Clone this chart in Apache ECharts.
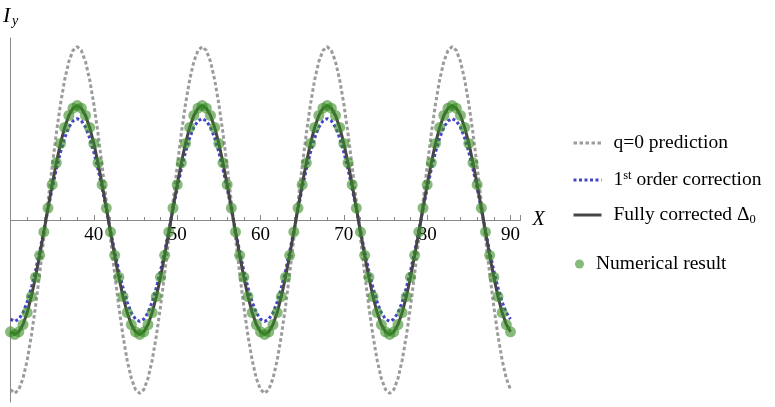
<!DOCTYPE html>
<html><head><meta charset="utf-8">
<script src="https://cdn.jsdelivr.net/npm/echarts@6/dist/echarts.min.js"></script>
<style>html,body{margin:0;padding:0;background:#fff}#c{width:775px;height:407px}</style>
</head><body><div id="c"></div>
<script>
const xValues = [
30,30.5,31,31.5,32,32.5,33,33.5,34,34.5,
35,35.5,36,36.5,37,37.5,38,38.5,39,39.5,
40,40.5,41,41.5,42,42.5,43,43.5,44,44.5,
45,45.5,46,46.5,47,47.5,48,48.5,49,49.5,
50,50.5,51,51.5,52,52.5,53,53.5,54,54.5,
55,55.5,56,56.5,57,57.5,58,58.5,59,59.5,
60,60.5,61,61.5,62,62.5,63,63.5,64,64.5,
65,65.5,66,66.5,67,67.5,68,68.5,69,69.5,
70,70.5,71,71.5,72,72.5,73,73.5,74,74.5,
75,75.5,76,76.5,77,77.5,78,78.5,79,79.5,
80,80.5,81,81.5,82,82.5,83,83.5,84,84.5,
85,85.5,86,86.5,87,87.5,88,88.5,89,89.5,
90];

const q0Prediction = [-0.978,
-1,-0.978,-0.914,-0.809,-0.669,-0.5,-0.309,-0.105,0.105,0.309,0.5,0.669,0.809,0.914,0.978,1,0.978,0.914,0.809,0.669,0.5,0.309,0.105,-0.105,-0.309,-0.5,-0.669,-0.809,-0.914,-0.978,
-1,-0.978,-0.914,-0.809,-0.669,-0.5,-0.309,-0.105,0.105,0.309,0.5,0.669,0.809,0.914,0.978,1,0.978,0.914,0.809,0.669,0.5,0.309,0.105,-0.105,-0.309,-0.5,-0.669,-0.809,-0.914,-0.978,
-1,-0.978,-0.914,-0.809,-0.669,-0.5,-0.309,-0.105,0.105,0.309,0.5,0.669,0.809,0.914,0.978,1,0.978,0.914,0.809,0.669,0.5,0.309,0.105,-0.105,-0.309,-0.5,-0.669,-0.809,-0.914,-0.978,
-1,-0.978,-0.914,-0.809,-0.669,-0.5,-0.309,-0.105,0.105,0.309,0.5,0.669,0.809,0.914,0.978,1,0.978,0.914,0.809,0.669,0.5,0.309,0.105,-0.105,-0.309,-0.5,-0.669,-0.809,-0.914,-0.978];

const firstOrderCorrection = [-0.572,
-0.585,-0.572,-0.535,-0.473,-0.391,-0.293,-0.181,-0.061,0.061,0.181,0.293,0.391,0.473,0.535,0.572,0.585,0.572,0.535,0.473,0.391,0.293,0.181,0.061,-0.061,-0.181,-0.293,-0.391,-0.473,-0.535,-0.572,
-0.585,-0.572,-0.535,-0.473,-0.391,-0.293,-0.181,-0.061,0.061,0.181,0.293,0.391,0.473,0.535,0.572,0.585,0.572,0.535,0.473,0.391,0.293,0.181,0.061,-0.061,-0.181,-0.293,-0.391,-0.473,-0.535,-0.572,
-0.585,-0.572,-0.535,-0.473,-0.391,-0.293,-0.181,-0.061,0.061,0.181,0.293,0.391,0.473,0.535,0.572,0.585,0.572,0.535,0.473,0.391,0.293,0.181,0.061,-0.061,-0.181,-0.293,-0.391,-0.473,-0.535,-0.572,
-0.585,-0.572,-0.535,-0.473,-0.391,-0.293,-0.181,-0.061,0.061,0.181,0.293,0.391,0.473,0.535,0.572,0.585,0.572,0.535,0.473,0.391,0.293,0.181,0.061,-0.061,-0.181,-0.293,-0.391,-0.473,-0.535,-0.572];

const numericalResult = [-0.645,
-0.660,-0.645,-0.603,-0.534,-0.442,-0.330,-0.204,-0.069,0.069,0.204,0.330,0.442,0.534,0.603,0.645,0.660,0.645,0.603,0.534,0.442,0.330,0.204,0.069,-0.069,-0.204,-0.330,-0.442,-0.534,-0.603,-0.645,
-0.660,-0.645,-0.603,-0.534,-0.442,-0.330,-0.204,-0.069,0.069,0.204,0.330,0.442,0.534,0.603,0.645,0.660,0.645,0.603,0.534,0.442,0.330,0.204,0.069,-0.069,-0.204,-0.330,-0.442,-0.534,-0.603,-0.645,
-0.660,-0.645,-0.603,-0.534,-0.442,-0.330,-0.204,-0.069,0.069,0.204,0.330,0.442,0.534,0.603,0.645,0.660,0.645,0.603,0.534,0.442,0.330,0.204,0.069,-0.069,-0.204,-0.330,-0.442,-0.534,-0.603,-0.645,
-0.660,-0.645,-0.603,-0.534,-0.442,-0.330,-0.204,-0.069,0.069,0.204,0.330,0.442,0.534,0.603,0.645,0.660,0.645,0.603,0.534,0.442,0.330,0.204,0.069,-0.069,-0.204,-0.330,-0.442,-0.534,-0.603,-0.645];

// fully corrected curve passes through the numerical points
const fullyCorrected = numericalResult;

const xTickLabels = [40, 50, 60, 70, 80, 90];
const seriesNames = ['q=0 prediction', '1st order correction', 'Fully corrected Δ0', 'Numerical result'];
const legendLabels = ['q=0 prediction', '1{sup|st} order correction', 'Fully corrected Δ{sub|0}', 'Numerical result'];

const FONT = 'Liberation Serif';
const pairs = v => xValues.map((x, i) => [x, v[i]]);
const chart = echarts.init(document.getElementById('c'), null, {renderer: 'canvas'});

const legendText = {
  fontFamily: FONT, fontSize: 19.5, color: '#000', lineHeight: 22, padding: [0, 0, 0, 7],
  rich: {
    sup: {fontFamily: FONT, fontSize: 12.5, lineHeight: 12, verticalAlign: 'top', color: '#000'},
    sub: {fontFamily: FONT, fontSize: 12.5, lineHeight: 12, verticalAlign: 'bottom', color: '#000'}
  }
};
const legendTops = [132, 169, 204, 253];
const legends = seriesNames.map((n, i) => ({
  data: [n], orient: 'vertical', left: i === 3 ? 575 : 572, top: legendTops[i], padding: 0,
  itemWidth: i === 3 ? 9 : 28, itemHeight: i === 3 ? 9 : 10,
  itemStyle: i === 3 ? {} : {opacity: 0},
  lineStyle: {opacity: 1, width: 3},
  formatter: () => legendLabels[i], textStyle: legendText, selectedMode: false
}));

const axisGray = '#8a8a8a';
const gridHeight = 364;
chart.setOption({
  animation: false,
  grid: {left: 10.5, top: 38, width: 510, height: gridHeight, outerBoundsMode: 'none', containLabel: false},
  legend: legends,
  graphic: [
    {type: 'text', left: 3, top: 5, style: {text: 'I', font: 'italic 22px "Liberation Serif"', fill: '#000'}},
    {type: 'text', left: 12, top: 14, style: {text: 'y', font: 'italic 14px "Liberation Serif"', fill: '#000'}}
  ],
  xAxis: {
    type: 'value', min: 30, max: 91.2, interval: 10, position: 'bottom', offset: -gridHeight / 2,
    name: 'X', nameLocation: 'end', nameGap: 12,
    nameTextStyle: {fontFamily: FONT, fontStyle: 'italic', fontSize: 20, color: '#000'},
    axisLine: {onZero: false, lineStyle: {color: axisGray, width: 1}},
    axisTick: {inside: true, length: 5, lineStyle: {color: axisGray}},
    minorTick: {show: true, splitNumber: 5, length: 3, lineStyle: {color: axisGray}},
    axisLabel: {margin: 6, fontFamily: FONT, fontSize: 19, color: '#000', showMinLabel: false, showMaxLabel: false,
      formatter: v => xTickLabels.includes(v) ? String(v) : ''},
    splitLine: {show: false}, minorSplitLine: {show: false}
  },
  yAxis: {
    type: 'value', min: -1.05, max: 1.05,
    axisLine: {show: true, onZero: false, lineStyle: {color: axisGray, width: 1}},
    axisTick: {show: false}, axisLabel: {show: false}, splitLine: {show: false}
  },
  series: [
    {name: seriesNames[0], type: 'line', data: pairs(q0Prediction), symbol: 'none', z: 1,
     lineStyle: {color: '#9b9b9b', width: 3, type: [3.5, 2.5]}, itemStyle: {color: '#9b9b9b'}},
    {name: seriesNames[1], type: 'line', data: pairs(firstOrderCorrection), symbol: 'none', z: 2,
     lineStyle: {color: '#4545c8', width: 3, type: [3, 2.5]}, itemStyle: {color: '#4545c8'}},
    {name: seriesNames[2], type: 'line', data: pairs(fullyCorrected), symbol: 'none', z: 3,
     lineStyle: {color: '#464646', width: 3}, itemStyle: {color: '#464646'}},
    {name: seriesNames[3], type: 'scatter', data: pairs(numericalResult), symbol: 'circle', symbolSize: 11, z: 4,
     itemStyle: {color: 'rgb(55,140,35)', opacity: 0.6}}
  ]
});
</script></body></html>
